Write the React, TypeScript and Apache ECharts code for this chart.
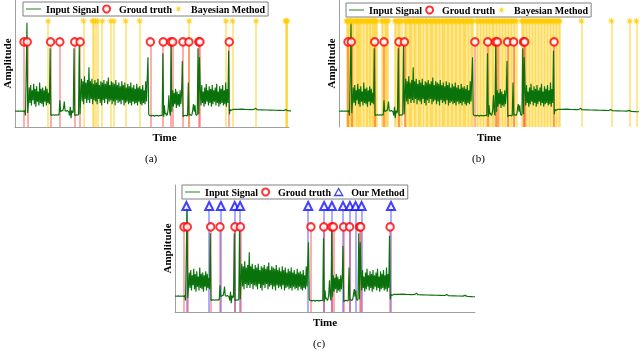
import React, { useEffect, useRef } from 'react';
import * as echarts from 'echarts';

// Input signal: uniformly sampled every 2.5 time units from 0 to 720
const SIGNAL_STEP = 2.5;
const signalDense = [
  0.125,0.126,0.124,0.125,0.127,0.125,0.124,0.126,0.125,0.124,
  0.126,0.125,0.123,0.13,0.09,0.42,0.82,0.11,0.2,0.31,
  0.19,0.33,0.17,0.29,0.21,0.34,0.18,0.30,0.16,0.32,
  0.20,0.28,0.17,0.35,0.19,0.30,0.18,0.31,0.16,0.29,
  0.20,0.32,0.17,0.30,0.19,0.27,0.18,0.62,0.09,0.095,
  0.094,0.096,0.095,0.093,0.095,0.096,0.094,0.095,0.097,0.095,
  0.21,0.12,0.125,0.13,0.128,0.15,0.2,0.13,0.125,0.127,
  0.13,0.125,0.12,0.09,0.16,0.07,0.13,0.11,0.12,0.62,
  0.09,0.095,0.093,0.097,0.094,0.096,0.64,0.1,0.25,0.38,
  0.20,0.36,0.18,0.40,0.22,0.35,0.19,0.37,0.21,0.47,
  0.19,0.36,0.22,0.38,0.18,0.34,0.21,0.37,0.20,0.35,
  0.18,0.38,0.22,0.33,0.19,0.36,0.17,0.35,0.21,0.37,
  0.19,0.34,0.22,0.36,0.18,0.39,0.20,0.33,0.21,0.36,
  0.18,0.35,0.20,0.34,0.17,0.37,0.21,0.33,0.19,0.35,
  0.20,0.32,0.18,0.36,0.21,0.33,0.17,0.35,0.19,0.31,
  0.20,0.34,0.18,0.32,0.19,0.35,0.17,0.31,0.20,0.33,
  0.18,0.30,0.19,0.34,0.17,0.31,0.20,0.32,0.18,0.30,
  0.17,0.33,0.19,0.29,0.18,0.36,0.20,0.38,0.55,0.1,
  0.09,0.088,0.092,0.087,0.09,0.093,0.089,0.085,0.09,0.092,
  0.088,0.09,0.087,0.091,0.089,0.093,0.09,0.088,0.58,0.08,
  0.17,0.1,0.11,0.09,0.1,0.14,0.25,0.12,0.09,0.66,
  0.12,0.29,0.16,0.27,0.18,0.30,0.15,0.28,0.17,0.26,
  0.16,0.29,0.18,0.27,0.52,0.08,0.09,0.088,0.092,0.09,
  0.087,0.09,0.35,0.09,0.1,0.095,0.09,0.1,0.14,0.18,
  0.12,0.17,0.1,0.09,0.1,0.62,0.1,0.55,0.30,0.17,
  0.33,0.19,0.28,0.16,0.31,0.18,0.34,0.20,0.29,0.17,
  0.32,0.19,0.30,0.16,0.33,0.18,0.29,0.20,0.31,0.17,
  0.34,0.19,0.28,0.16,0.32,0.18,0.30,0.19,0.33,0.17,
  0.29,0.18,0.35,0.16,0.30,0.19,0.6,0.1,0.14,
];
// Quiet tail of the signal (time, amplitude)
const signalTail: [number, number][] = [
  [722.5,0.13],[730,0.14],[745,0.139],[760,0.141],[775,0.138],[790,0.137],[800,0.139],
  [805,0.148],[810,0.136],[825,0.135],[840,0.134],[855,0.133],[870,0.132],[885,0.131],
  [900,0.13],[906,0.138],[912,0.128],[930,0.127],[945,0.126],[960,0.125],[967,0.131],
  [974,0.123],[990,0.121],[1000,0.12],
];

const groundTruth = [30, 41, 119, 150, 200, 218, 453, 496, 522, 528, 562, 582, 615, 619, 717];
const ourMethod = [38, 114, 153, 199, 217, 444, 497, 523, 560, 583, 602, 622, 720];
const bayesA = [111, 229, 259, 263, 270, 276, 292, 320, 331, 370, 417, 583, 706, 728, 807, 905, 908, 911];
const bayesB = [
  25,28,31,35,38,42,46,50,55,59,63,66,70,74,79,84,88,93,97,101,104,108,112,115,119,122,125,
  141,146,151,156,160,164,
  186,190,195,199,204,208,
  219,223,227,231,235,240,244,248,252,257,261,266,270,274,279,283,288,292,296,301,305,310,
  314,318,323,327,332,336,341,345,350,354,358,363,367,372,376,380,385,389,394,398,402,407,
  411,416,420,424,429,433,438,442,446,
  458,463,468,473,478,483,488,493,498,503,508,
  512,516,521,526,531,536,541,546,551,556,561,566,571,576,581,586,591,
  608,612,617,622,627,632,637,642,647,652,657,662,667,672,677,682,687,692,697,702,707,712,
  717,722,727,732,736,
  808,908,969,991,
];

const GT_LEVEL = 0.67;
const DET_LEVEL = 0.835;

const STAR =
  'path://M10,0L11.53,6.3L17.07,2.93L13.7,8.47L20,10L13.7,11.53L17.07,17.07L11.53,13.7L10,20L8.47,13.7L2.93,17.07L6.3,11.53L0,10L6.3,8.47L2.93,2.93L8.47,6.3Z';
const LINE_ICON = 'path://M0,0L30,0L30,3L0,3Z';
const TRI_ICON = 'path://M5,0L10,8.66L0,8.66Z';
const SERIF = "'Liberation Serif', 'Times New Roman', serif";

export default function App() {
  const ref = useRef<HTMLDivElement>(null);
  useEffect(() => {
    const chart = echarts.init(ref.current!, null, { renderer: 'svg' });
    const signal: any[] = signalDense.map((v, i) => [i * SIGNAL_STEP, v]);
    signalTail.forEach((p) => signal.push(p));

    const panels = [
      { left: 14, top: 0, width: 275, height: 127, xMax: 917, bottom: true, det: bayesA, ours: false, lgLeft: 23, lgTop: 2, timePad: 25 },
      { left: 339, top: 0, width: 300, height: 127, xMax: 1000, bottom: false, det: bayesB, ours: false, lgLeft: 346, lgTop: 3, timePad: 0 },
      { left: 175, top: 185, width: 300, height: 127, xMax: 1000, bottom: true, det: ourMethod, ours: true, lgLeft: 182, lgTop: 185, timePad: 0 },
    ];
    const axisName = { fontFamily: SERIF, fontWeight: 'bold', fontSize: 11, color: '#000' };
    const axisColor = '#a0a0a0';
    const series: any[] = [];
    panels.forEach((p, k) => {
      series.push({
        type: 'line', name: 'Input Signal', xAxisIndex: k, yAxisIndex: k,
        data: signal, symbol: 'none', showSymbol: false, silent: true, z: 2,
        lineStyle: { color: '#0a720a', width: 1.15 }, itemStyle: { color: '#0a720a' },
      });
      series.push({
        type: 'scatter', name: p.ours ? 'Our Method' : 'Bayesian Method', xAxisIndex: k, yAxisIndex: k,
        data: p.det.map((x) => [x, DET_LEVEL]), silent: true, z: 3,
        symbol: p.ours ? 'emptyTriangle' : STAR, symbolSize: 8,
        itemStyle: p.ours
          ? { color: '#1010ff', borderColor: '#1010ff', borderWidth: 1.3 }
          : { color: '#ffcc00' },
        markLine: {
          silent: true, symbol: ['none', 'none'], label: { show: false }, z: 1,
          lineStyle: { color: p.ours ? 'rgba(40,40,255,0.38)' : 'rgba(255,200,0,0.42)', width: 2, type: 'solid' },
          emphasis: { disabled: true },
          data: p.det.map((x) => [{ coord: [x, 0] }, { coord: [x, DET_LEVEL] }]),
        },
      });
      series.push({
        type: 'scatter', name: 'Groud truth', xAxisIndex: k, yAxisIndex: k,
        data: groundTruth.map((x) => [x, GT_LEVEL]), silent: true, z: 4,
        symbol: 'emptyCircle', symbolSize: 7.5,
        itemStyle: { color: '#ff0000', borderColor: '#ff0000', borderWidth: 1.4 },
        markLine: {
          silent: true, symbol: ['none', 'none'], label: { show: false }, z: 1,
          lineStyle: { color: 'rgba(255,40,40,0.38)', width: 2, type: 'solid' },
          emphasis: { disabled: true },
          data: groundTruth.map((x) => [{ coord: [x, 0] }, { coord: [x, GT_LEVEL] }]),
        },
      });
    });

    chart.setOption({
      animation: false,
      grid: panels.map((p) => ({ left: p.left, top: p.top, width: p.width, height: p.height, containLabel: false })),
      xAxis: panels.map((p, k) => ({
        type: 'value', gridIndex: k, min: 0, max: p.xMax,
        axisLine: { show: p.bottom, onZero: false, lineStyle: { color: axisColor, width: 1 } },
        axisTick: { show: false }, axisLabel: { show: false }, splitLine: { show: false },
        name: 'Time', nameLocation: 'middle', nameGap: 4,
        nameTextStyle: { ...axisName, padding: [0, 0, 0, p.timePad] },
      })),
      yAxis: panels.map((p, k) => ({
        type: 'value', gridIndex: k, min: 0, max: 1,
        axisLine: { show: true, onZero: false, lineStyle: { color: axisColor, width: 1 } },
        axisTick: { show: false }, axisLabel: { show: false }, splitLine: { show: false },
        name: 'Amplitude', nameLocation: 'middle', nameGap: 3, nameRotate: 90,
        nameTextStyle: axisName,
      })),
      legend: panels.map((p) => ({
        left: p.lgLeft, top: p.lgTop, orient: 'horizontal', selectedMode: false,
        data: [
          { name: 'Input Signal', icon: LINE_ICON, itemStyle: { color: '#6aae6a', borderWidth: 0 } },
          { name: 'Groud truth', icon: 'emptyCircle', itemStyle: { color: '#ff0000', borderWidth: 1.4 } },
          p.ours
            ? { name: 'Our Method', icon: TRI_ICON, itemStyle: { color: '#ffffff', borderColor: '#1010ff', borderWidth: 1.3 } }
            : { name: 'Bayesian Method', icon: STAR, itemStyle: { color: '#ffcc00', borderWidth: 0 } },
        ],
        itemWidth: 15, itemHeight: 7, itemGap: 3,
        padding: [2, 3],
        borderColor: '#808080', borderWidth: 1, backgroundColor: '#fff',
        textStyle: { fontFamily: SERIF, fontWeight: 'bold', fontSize: 10, color: '#000' },
      })),
      graphic: [
        { type: 'text', left: 145, top: 152, style: { text: '(a)', font: `11px ${SERIF}`, fill: '#000' } },
        { type: 'text', left: 472, top: 152, style: { text: '(b)', font: `11px ${SERIF}`, fill: '#000' } },
        { type: 'text', left: 313, top: 337, style: { text: '(c)', font: `11px ${SERIF}`, fill: '#000' } },
      ],
      series,
    });
    return () => chart.dispose();
  }, []);
  return <div ref={ref} style={{ position: 'fixed', left: 0, top: 0, width: 640, height: 351 }} />;
}
